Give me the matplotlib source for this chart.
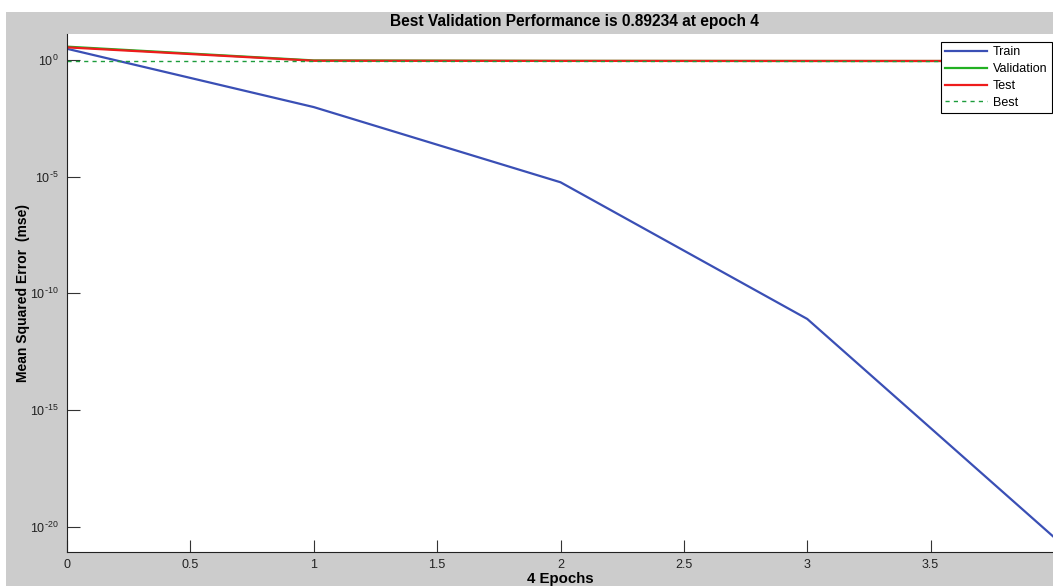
import numpy as np
import matplotlib
matplotlib.use("Agg")
import matplotlib.pyplot as plt
from matplotlib.patches import Rectangle
from matplotlib.ticker import FuncFormatter, NullLocator

plt.rcParams["font.family"] = ["Liberation Sans", "DejaVu Sans"]

# performance per epoch
epochs = [0, 1, 2, 3, 4]
train_perf = [3.0, 9.5e-3, 5.7e-6, 7.9e-12, 3.5e-21]
val_perf = [3.7, 0.95, 0.91, 0.90, 0.89234]
test_perf = [3.45, 0.92, 0.905, 0.90, 0.90]
best_epoch = 4
best_perf = 0.89234
y_ticks = [1e0, 1e-5, 1e-10, 1e-15, 1e-20]
x_ticks = [0, 0.5, 1, 1.5, 2, 2.5, 3, 3.5]
x_ticklabels = ["0", "0.5", "1", "1.5", "2", "2.5", "3", "3.5"]


def decade_label(v, pos):
    e = int(round(np.log10(v)))
    if e < 0:
        return r"$\mathdefault{10^{\text{-}%d}}$" % (-e)
    return r"$\mathdefault{10^{%d}}$" % e


fig = plt.figure(figsize=(10.53, 5.86), dpi=100, facecolor="#cccccc")
# white strips of the screenshot border
fig.patches.append(Rectangle((0, 1 - 12 / 586), 1, 12 / 586, transform=fig.transFigure,
                             facecolor="white", edgecolor="none", zorder=-1))
fig.patches.append(Rectangle((0, 0), 6 / 1053, 1, transform=fig.transFigure,
                             facecolor="white", edgecolor="none", zorder=-1))

ax = fig.add_axes([67 / 1053, 34 / 586, 987 / 1053, 518 / 586])
ax.plot(epochs, train_perf, color="#3a4fb5", lw=1.6, label="Train")
ax.plot(epochs, val_perf, color="#22b022", lw=1.6, label="Validation")
ax.plot(epochs, test_perf, color="#ee1c1c", lw=1.6, label="Test")
ax.axhline(best_perf, color="#1c9c3c", lw=1.0, ls=(0, (3, 3)), label="Best")
ax.axvline(best_epoch, color="#1c9c3c", lw=1.0, ls=(0, (3, 3)))
ax.plot([best_epoch], [best_perf], "o", mfc="none", mec="#22b022", ms=12, mew=1.6)

ax.set_yscale("log")
ax.set_xlim(0, 4)
ax.set_ylim(10 ** -21.09, 10 ** 1.11)
ax.set_yticks(y_ticks)
ax.yaxis.set_major_formatter(FuncFormatter(decade_label))
ax.yaxis.set_minor_locator(NullLocator())
ax.set_xticks(x_ticks)
ax.set_xticklabels(x_ticklabels)
ax.tick_params(direction="in", length=9, width=0.8, labelsize=9, colors="#333333",
               labelcolor="#222222")
ax.tick_params(axis="x", pad=5)
ax.tick_params(axis="y", pad=6)
ax.spines["top"].set_visible(False)
ax.spines["right"].set_visible(False)
ax.spines["left"].set_color("#222222")
ax.spines["bottom"].set_color("#222222")

ax.set_title("Best Validation Performance is 0.89234 at epoch 4", fontsize=11.2,
             fontweight="bold", pad=6, x=(574 - 67) / 987)
ax.set_xlabel("4 Epochs", fontsize=10.8, fontweight="bold", labelpad=1)
ax.set_ylabel("Mean Squared Error  (mse)", fontsize=10, fontweight="bold")
ax.yaxis.set_label_coords((30 - 67) / 987, 0.5)

leg = ax.legend(loc="upper right", bbox_to_anchor=((1052 - 67) / 987, (552 - 42) / 518),
                borderaxespad=0, fontsize=9, fancybox=False, framealpha=1,
                edgecolor="black", borderpad=0.35, labelspacing=0.38,
                handlelength=3.4, handletextpad=0.45)
leg.get_frame().set_linewidth(0.8)

fig.savefig("out.png", dpi=100, facecolor=fig.get_facecolor())
